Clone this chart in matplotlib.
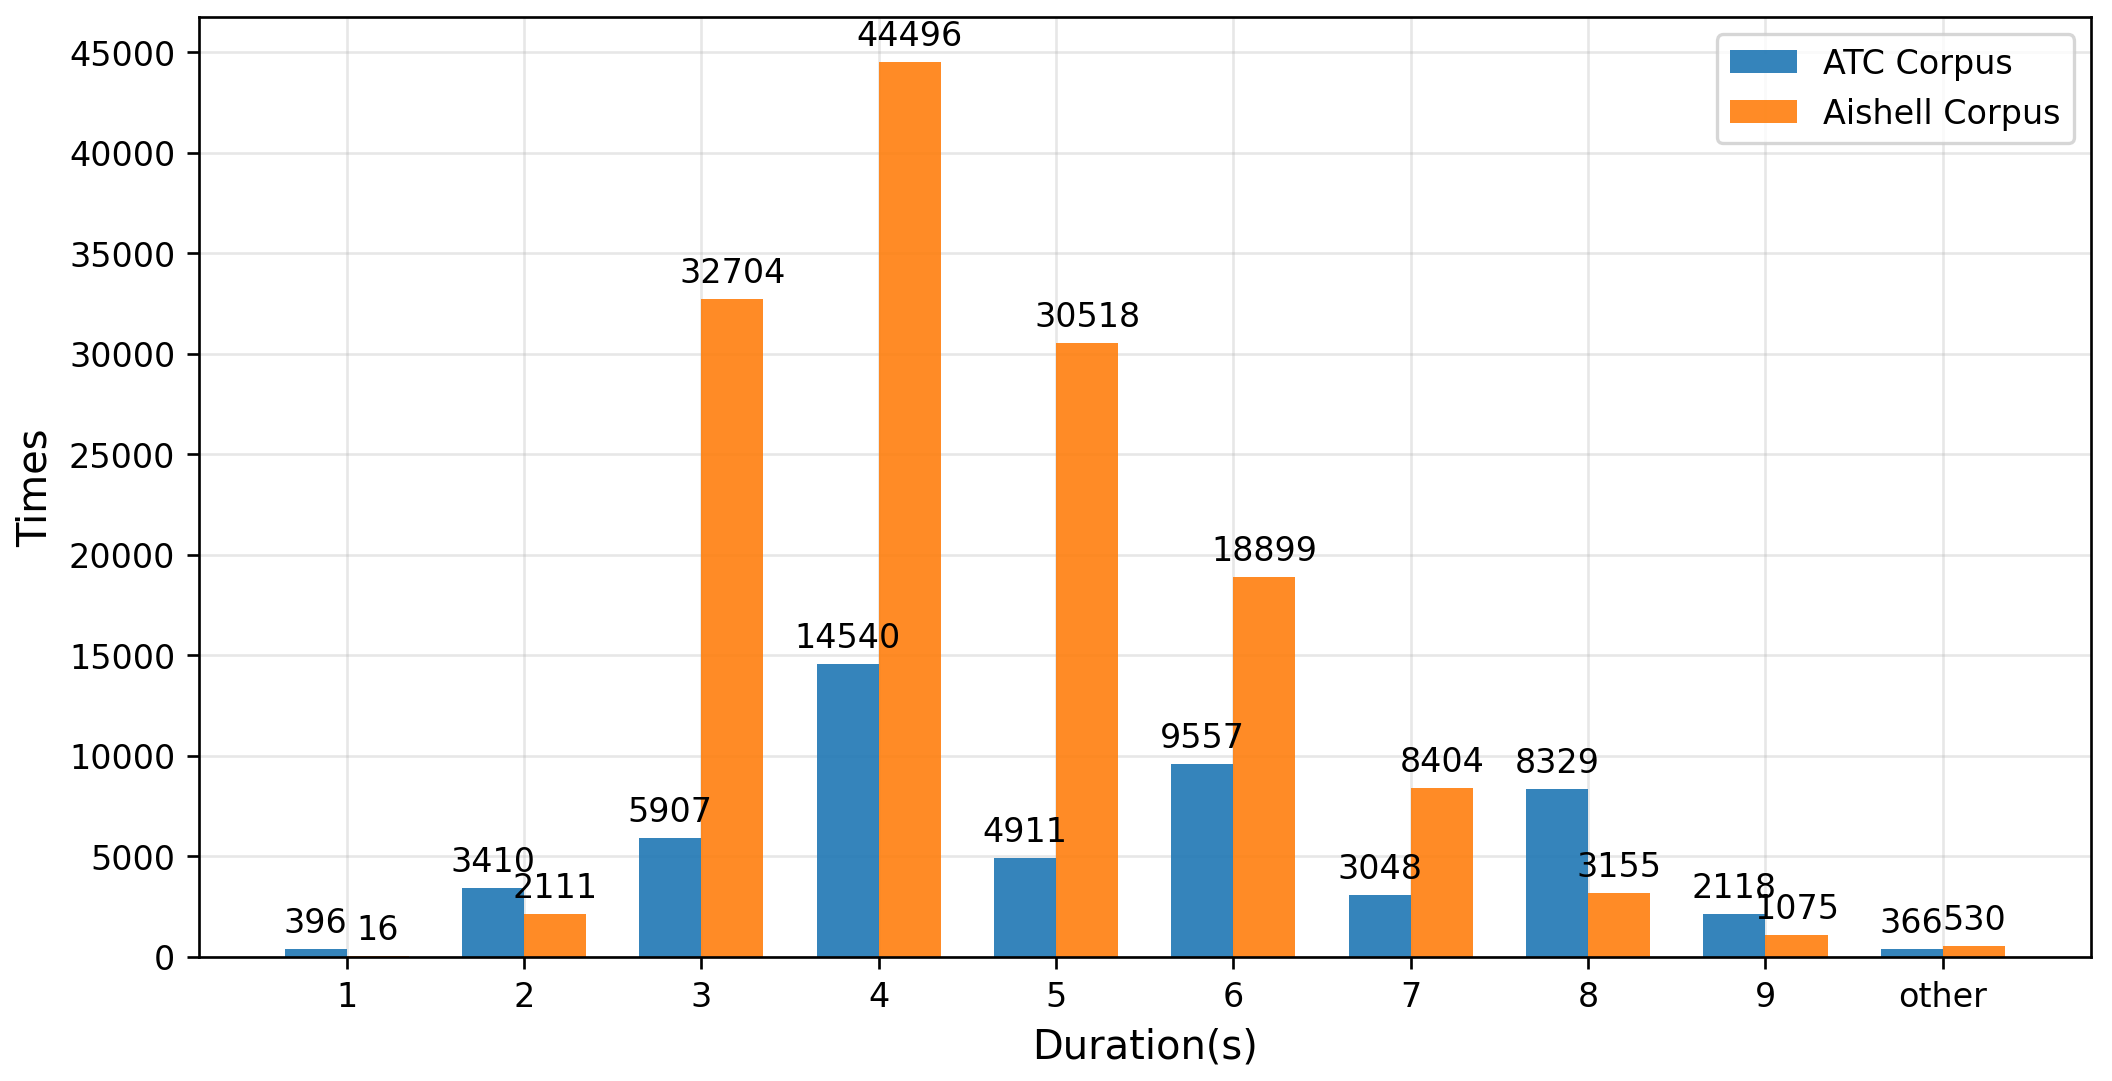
import numpy as np
import matplotlib.pyplot as plt

categories = ['1', '2', '3', '4', '5', '6', '7', '8', '9', 'other']
atc = [396, 3410, 5907, 14540, 4911, 9557, 3048, 8329, 2118, 366]
aishell = [16, 2111, 32704, 44496, 30518, 18899, 8404, 3155, 1075, 530]
yticks = [0, 5000, 10000, 15000, 20000, 25000, 30000, 35000, 40000, 45000]

x = np.arange(len(categories))
width = 0.35

fig, ax = plt.subplots(figsize=(8.8, 4.508), dpi=240)
b1 = ax.bar(x - width / 2, atc, width, label='ATC Corpus', color='#1f77b4', alpha=0.9)
b2 = ax.bar(x + width / 2, aishell, width, label='Aishell Corpus', color='#ff7f0e', alpha=0.9)

for bars in (b1, b2):
    for rect in bars:
        h = rect.get_height()
        ax.annotate(f'{int(h)}', xy=(rect.get_x() + rect.get_width() / 2, h),
                    xytext=(0, 3), textcoords='offset points',
                    ha='center', va='bottom', fontsize=10)

ax.set_xticks(x)
ax.set_xticklabels(categories, fontsize=10)
ax.set_yticks(yticks)
ax.tick_params(axis='y', labelsize=10)
ax.set_xlabel('Duration(s)', fontsize=12)
ax.set_ylabel('Times', fontsize=12)
ax.grid(True, alpha=0.3)
ax.set_axisbelow(True)
ax.legend(fontsize=10, loc='upper right')

plt.subplots_adjust(left=0.094, right=0.99, top=0.983, bottom=0.115)
plt.savefig('out.png', dpi=240)
